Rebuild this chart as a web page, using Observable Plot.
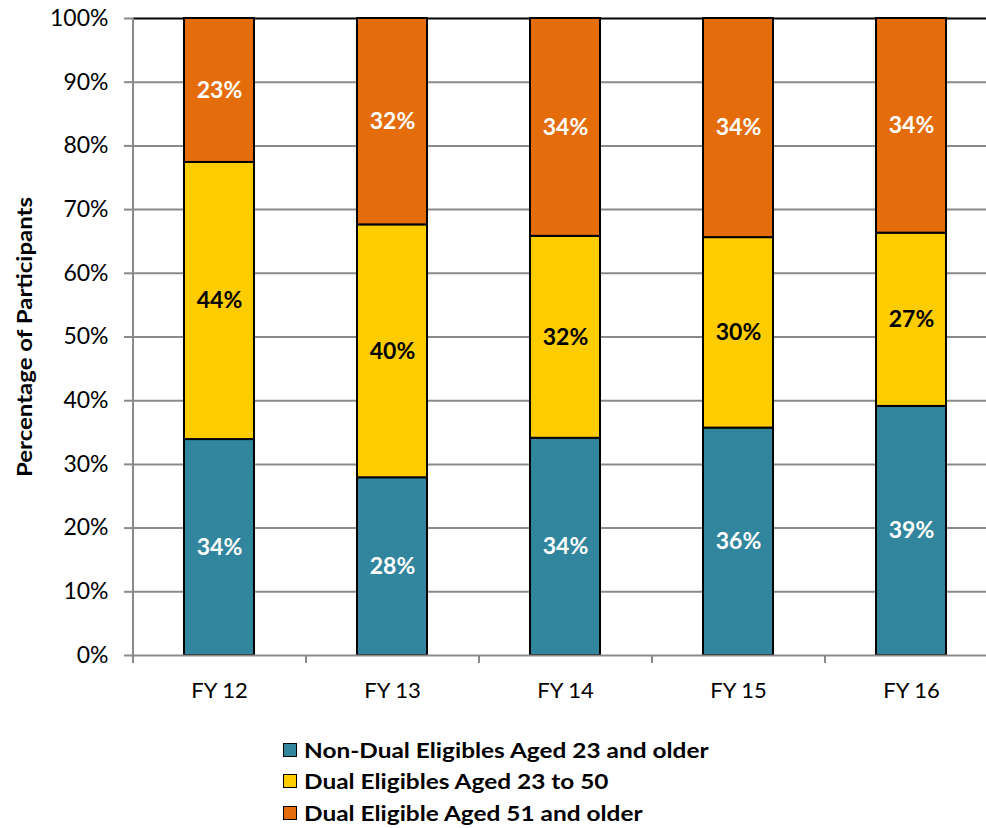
<!DOCTYPE html>
<html>
<head>
<meta charset="utf-8">
<script src="https://cdn.jsdelivr.net/npm/d3@7"></script>
<script src="https://cdn.jsdelivr.net/npm/@observablehq/plot@0.6"></script>
<style>
  body { margin: 0; background: #fff; font-family: Lato, "Open Sans", sans-serif; }
  #chart { position: relative; width: 986px; height: 828px; overflow: hidden; }
  #legend { position: absolute; left: 283px; top: 734px; }
  .row { display: flex; align-items: center; height: 31.5px; font-weight: bold; font-size: 20px; color: #000; }
  .sw { width: 12px; height: 12px; border: 1.5px solid #000; margin-right: 7px; flex: none; }
  .lbl { display: inline-block; white-space: nowrap; transform: scaleX(1.22); transform-origin: left center; }
</style>
</head>
<body>
<div id="chart"><div id="legend"></div></div>
<script>
// Fiscal years on the x axis
const years = ["FY 12", "FY 13", "FY 14", "FY 15", "FY 16"];
// Participant groups, bottom to top of each stack
const series = [
  "Non-Dual Eligibles Aged 23 and older",
  "Dual Eligibles Aged 23 to 50",
  "Dual Eligible Aged 51 and older"
];
const colors = ["#31859c", "#ffcc00", "#e46c0a"];
// Share of participants (%) per year
const nonDual23Plus = [33.9, 27.9, 34.1, 35.7, 39.1];
const dual23to50 = [43.5, 39.7, 31.7, 29.9, 27.2];
const dual51Plus = [22.6, 32.4, 34.2, 34.4, 33.7];
// Y axis ticks (%)
const yTicks = [0, 10, 20, 30, 40, 50, 60, 70, 80, 90, 100];
const yTitle = "Percentage of Participants";

const values = [nonDual23Plus, dual23to50, dual51Plus];
const rows = years.flatMap((year, i) =>
  series.map((s, k) => ({year, series: s, value: values[k][i]}))
);

const W = 986, H = 720;
const plotTop = 18, plotBottom = 655;
const xRange = [133, 998];
const step = (xRange[1] - xRange[0]) / years.length;
const gray = "#8a8a8a";
const font = "Lato, 'Open Sans', sans-serif";

const labelOpts = {
  x: "year", y: "value",
  text: d => Math.round(d.value) + "%",
  fontWeight: "bold", fontSize: 23
};

const chart = Plot.plot({
  width: W,
  height: H,
  marginLeft: xRange[0],
  marginRight: 0,
  marginTop: plotTop,
  marginBottom: H - plotBottom,
  style: {fontFamily: font, background: "#fff", color: "#000", overflow: "visible"},
  x: {domain: years, range: xRange, paddingInner: 0.595, paddingOuter: 0.2975, label: null},
  y: {domain: [0, 100], label: null},
  color: {domain: series, range: colors},
  marks: [
    // horizontal gridlines
    Plot.ruleY(yTicks.filter(t => t > 0 && t < 100), {stroke: gray, strokeWidth: 2}),
    Plot.ruleY([100], {stroke: "#000", strokeWidth: 2}),
    // stacked bars
    Plot.barY(rows, {x: "year", y: "value", fill: "series", stroke: "#000", strokeWidth: 2}),
    // value labels
    Plot.text(rows, Plot.filter(d => d.series !== series[1],
      Plot.stackY({...labelOpts, fill: "#fff"}))),
    Plot.text(rows, Plot.filter(d => d.series === series[1],
      Plot.stackY({...labelOpts, fill: "#000"}))),
    // axis lines
    Plot.ruleY([0], {stroke: gray, strokeWidth: 2}),
    Plot.ruleX([years[0]], {y1: 0, y2: 100, dx: -step / 2, stroke: gray, strokeWidth: 2}),
    // y axis
    Plot.axisY({
      ticks: yTicks, tickFormat: d => d + "%", tickSize: 9, tickPadding: 16,
      stroke: gray, strokeWidth: 2, fill: "#000", fontSize: 23, label: null
    }),
    // category separators on the x axis
    Plot.axisX({tickSize: 8, dx: -step / 2, stroke: gray, strokeWidth: 2, fill: "none", label: null}),
    // x labels
    Plot.axisX({tickSize: 0, tickPadding: 27, fill: "#000", fontSize: 22, label: null}),
    // y axis title
    Plot.text([yTitle], {
      frameAnchor: "left", textAnchor: "middle", rotate: -90, dx: -108,
      fontWeight: "bold", fontSize: 20, fill: "#000"
    })
  ]
});

// widen the rotated axis title along its own direction
d3.select(chart).selectAll("text")
  .filter(function () { return this.textContent === yTitle; })
  .each(function () {
    const t = this.getAttribute("transform") || "";
    this.setAttribute("transform", t + " scale(1.2,1)");
  });

const host = document.getElementById("chart");
host.insertBefore(chart, host.firstChild);

// legend
const legend = document.getElementById("legend");
series.forEach((s, k) => {
  const row = document.createElement("div");
  row.className = "row";
  const sw = document.createElement("span");
  sw.className = "sw";
  sw.style.background = colors[k];
  const label = document.createElement("span");
  label.className = "lbl";
  label.textContent = s;
  row.append(sw, label);
  legend.append(row);
});
</script>
</body>
</html>
